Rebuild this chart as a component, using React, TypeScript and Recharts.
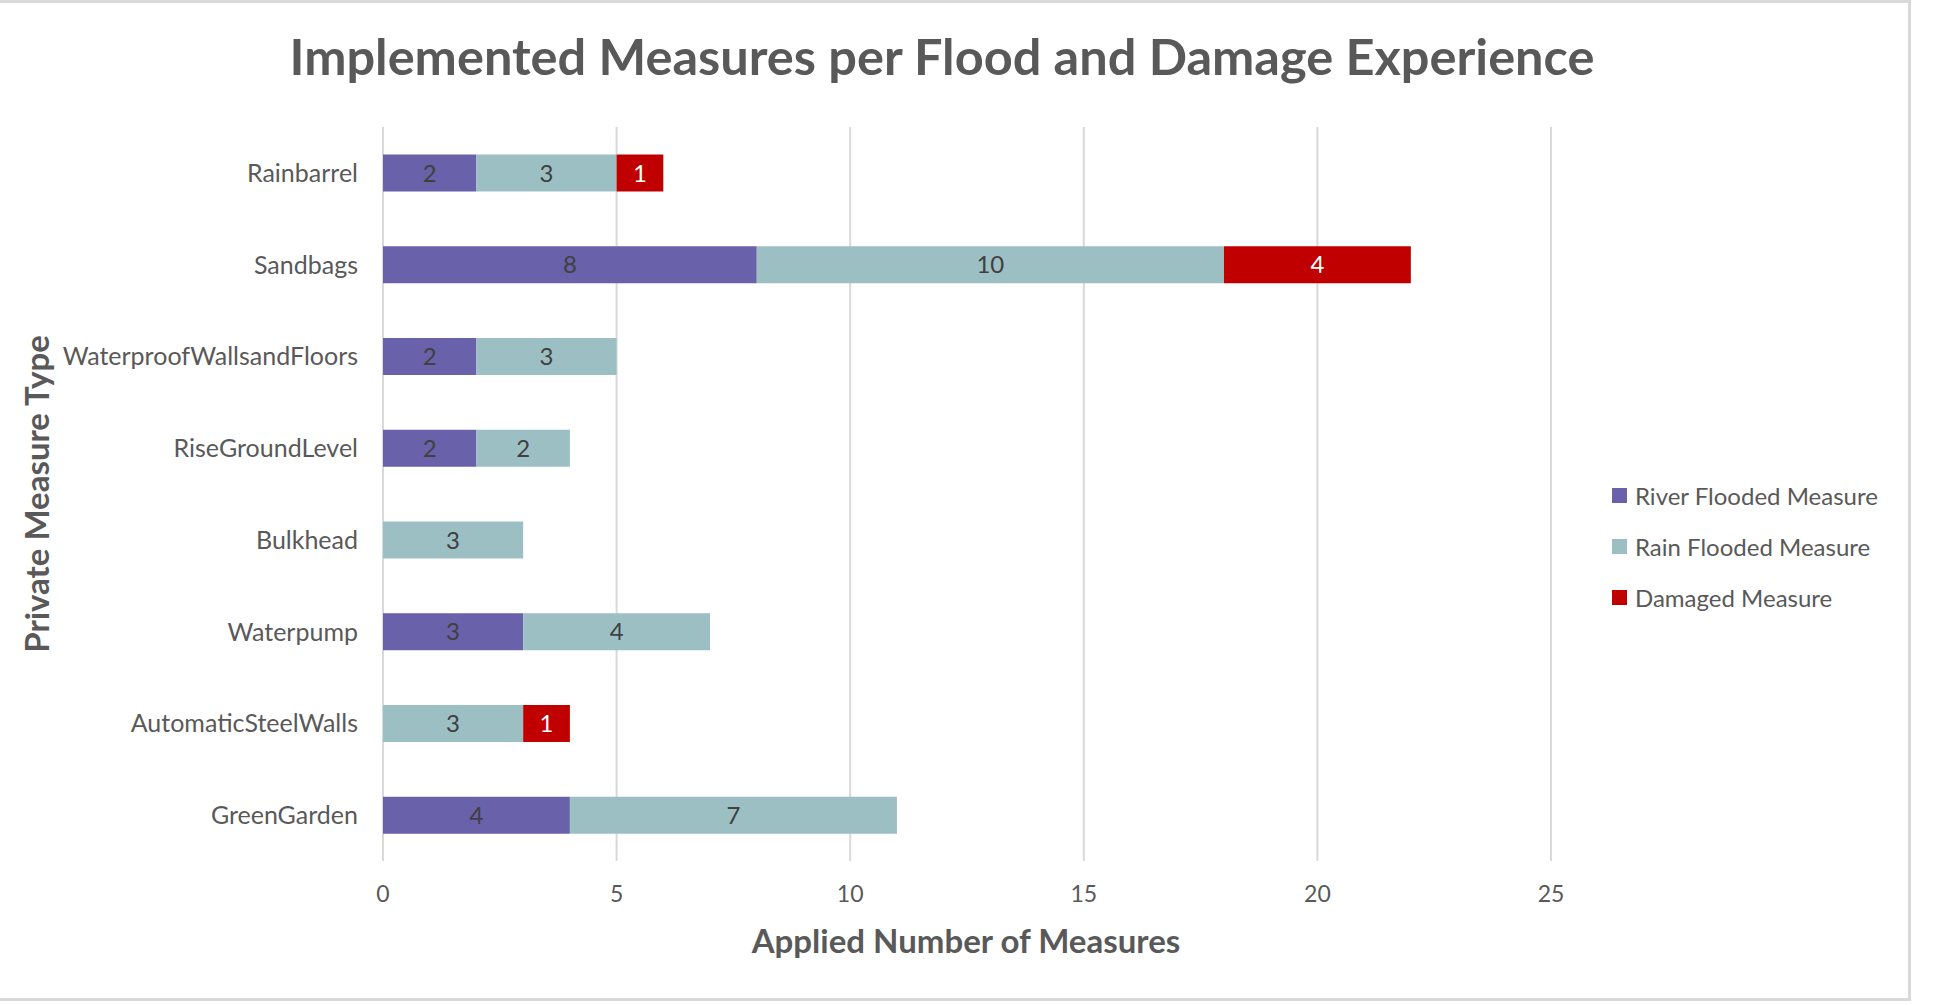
import { Bar, BarChart, CartesianGrid, LabelList, Legend, XAxis, YAxis } from "recharts";

// Private flood measures, counted per experience group
const measureTypes = [
  "Rainbarrel",
  "Sandbags",
  "WaterproofWallsandFloors",
  "RiseGroundLevel",
  "Bulkhead",
  "Waterpump",
  "AutomaticSteelWalls",
  "GreenGarden",
];
const riverFlooded = [2, 8, 2, 2, null, 3, null, 4];
const rainFlooded = [3, 10, 3, 2, 3, 4, 3, 7];
const damaged = [1, 4, null, null, null, null, 1, null];
const xTicks = [0, 5, 10, 15, 20, 25];
const seriesNames = ["River Flooded Measure", "Rain Flooded Measure", "Damaged Measure"];

const rows = measureTypes.map((name, i) => ({
  name,
  river: riverFlooded[i],
  rain: rainFlooded[i],
  damaged: damaged[i],
}));

const FONT = "Lato, 'Open Sans', sans-serif";
const TEXT = "#595959";
const W = 1937;
const H = 1005;

const valueLabel = (color: string) => (props: any) => {
  const { x, y, width, height, value } = props;
  if (value == null || value === 0) return null;
  return (
    <text
      x={Number(x) + Number(width) / 2}
      y={Number(y) + Number(height) / 2}
      dy="0.36em"
      textAnchor="middle"
      fill={color}
      fontSize={24}
      fontFamily={FONT}
    >
      {value}
    </text>
  );
};

// legend keeps series order (recharts flips it for vertical layouts)
function LegendList({ payload }: any) {
  const items = [...(payload ?? [])].sort(
    (a: any, b: any) => seriesNames.indexOf(a.value) - seriesNames.indexOf(b.value)
  );
  return (
    <div style={{ fontFamily: FONT, fontSize: 24, color: TEXT }}>
      {items.map((p: any) => (
        <div
          key={p.value}
          style={{ display: "flex", alignItems: "center", height: 51 }}
        >
          <span
            style={{
              width: 15,
              height: 15,
              background: p.color,
              display: "inline-block",
              marginRight: 8,
            }}
          />
          {p.value}
        </div>
      ))}
    </div>
  );
}

export default function App() {
  return (
    <div
      style={{
        position: "absolute",
        left: 0,
        top: 0,
        width: W,
        height: H,
        background: "#ffffff",
        overflow: "hidden",
      }}
    >
      <div
        style={{
          position: "absolute",
          left: -4,
          top: 0,
          width: 1915,
          height: 1001,
          boxSizing: "border-box",
          border: "3px solid #d9d9d9",
        }}
      />
      <BarChart
        width={W}
        height={H}
        data={rows}
        layout="vertical"
        margin={{ top: 127, right: 386, bottom: 0, left: 0 }}
        barCategoryGap="30%"
        style={{ position: "absolute", left: 0, top: 0 }}
      >
        <CartesianGrid horizontal={false} stroke="#d9d9d9" strokeWidth={2} />
        <XAxis
          type="number"
          domain={[0, 25]}
          ticks={xTicks}
          axisLine={false}
          tickLine={false}
          tickSize={0}
          tickMargin={25}
          height={144}
          tick={{ fill: TEXT, fontSize: 23, fontFamily: FONT }}
        />
        <YAxis
          type="category"
          dataKey="name"
          width={383}
          axisLine={false}
          tickLine={false}
          tickSize={0}
          tickMargin={25}
          interval={0}
          tick={{ fill: TEXT, fontSize: 25, fontFamily: FONT }}
        />
        <Legend
          layout="vertical"
          align="center"
          verticalAlign="middle"
          content={<LegendList />}
          wrapperStyle={{ left: 1612, top: 470, width: 300 }}
        />
        <Bar
          dataKey="river"
          name={seriesNames[0]}
          stackId="m"
          fill="#6961a9"
          isAnimationActive={false}
        >
          <LabelList dataKey="river" content={valueLabel("#404040")} />
        </Bar>
        <Bar
          dataKey="rain"
          name={seriesNames[1]}
          stackId="m"
          fill="#9cbfc3"
          isAnimationActive={false}
        >
          <LabelList dataKey="rain" content={valueLabel("#404040")} />
        </Bar>
        <Bar
          dataKey="damaged"
          name={seriesNames[2]}
          stackId="m"
          fill="#c00000"
          isAnimationActive={false}
        >
          <LabelList dataKey="damaged" content={valueLabel("#ffffff")} />
        </Bar>
      </BarChart>
      <svg
        width={W}
        height={H}
        style={{ position: "absolute", left: 0, top: 0, pointerEvents: "none" }}
      >
        <text
          x={942}
          y={57}
          dy="0.36em"
          textAnchor="middle"
          fill={TEXT}
          fontSize={50.5}
          fontWeight={700}
          fontFamily={FONT}
        >
          Implemented Measures per Flood and Damage Experience
        </text>
        <text
          x={966}
          y={941}
          dy="0.36em"
          textAnchor="middle"
          fill={TEXT}
          fontSize={33}
          fontWeight={700}
          fontFamily={FONT}
        >
          Applied Number of Measures
        </text>
        <text
          x={37}
          y={494}
          dy="0.36em"
          textAnchor="middle"
          transform="rotate(-90 37 494)"
          fill={TEXT}
          fontSize={33}
          fontWeight={700}
          fontFamily={FONT}
        >
          Private Measure Type
        </text>
      </svg>
    </div>
  );
}
